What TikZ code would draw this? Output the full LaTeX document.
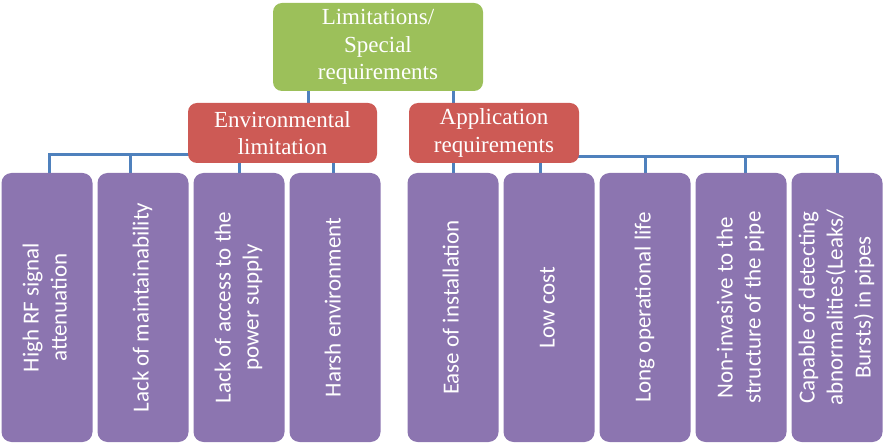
\documentclass[tikz,border=0pt]{standalone}
\usepackage{fontspec}
\setmainfont{Liberation Serif}
\setsansfont{Carlito}
\newfontfamily\headfont{Liberation Serif}
\usepackage{graphicx}
\usetikzlibrary{positioning}
\usetikzlibrary{backgrounds}
\definecolor{boxgreen}{RGB}{156,192,90}
\definecolor{boxred}{RGB}{205,90,85}
\definecolor{boxpurple}{RGB}{140,117,176}
\definecolor{linkblue}{RGB}{79,129,189}
\newcommand{\vtext}[1]{\rotatebox{90}{\begin{tabular}{@{}c@{}}#1\end{tabular}}}

\begin{document}
\begin{tikzpicture}[x=1pt, y=-1pt, every node/.style={inner sep=0pt, outer sep=0pt, text=white},
	  head/.style={rectangle, rounded corners=9pt, fill=boxgreen, minimum width=210pt, minimum height=88pt, align=center, font=\headfont\fontsize{23}{27.5}\selectfont},
	  branch/.style={rectangle, rounded corners=9pt, fill=boxred, minimum height=60pt, align=center, font=\headfont\fontsize{23}{27.5}\selectfont},
	  leaf/.style={rectangle, rounded corners=10pt, fill=boxpurple, minimum width=91pt, minimum height=269pt, font=\sffamily\fontsize{23}{28}\selectfont},
	  link/.style={draw=linkblue, line width=3pt}]
	  \useasboundingbox (0,0) rectangle (884,446);
	  \node[head] (top) at (378,47) {Limitations/\\Special\\requirements};
	  \node[branch, minimum width=189pt] (env) at (282.5,133) {Environmental\\limitation};
	  \node[branch, minimum width=170pt] (apl) at (494,133) {Application\\requirements};
	  \node[leaf] (p1) at (47,307.5) {\vtext{High RF signal\\attenuation}};
	  \node[leaf] (p2) [right=5pt of p1] {\vtext{Lack of maintainability}};
	  \node[leaf] (p3) [right=5pt of p2] {\vtext{Lack of access to the\\power supply}};
	  \node[leaf] (p4) [right=5pt of p3] {\vtext{Harsh environment}};
	  \node[leaf] (p5) [right=27pt of p4] {\vtext{Ease of installation}};
	  \node[leaf] (p6) [right=5pt of p5] {\vtext{Low cost}};
	  \node[leaf] (p7) [right=5pt of p6] {\vtext{Long operational life}};
	  \node[leaf] (p8) [right=5pt of p7] {\vtext{Non-invasive to the\\structure of the pipe}};
	  \node[leaf] (p9) [right=5pt of p8] {\vtext{Capable of detecting\\abnormalities(Leaks/\\Bursts) in pipes}};
%
	  \begin{pgfonlayer}{background}
	    \coordinate (envbus) at ([yshift=8pt]env.south);
	    \coordinate (aplbus) at ([yshift=6pt]apl.south);
	    \draw[link] (top.south -| 308,0) -- (env.north -| 308,0);
	    \draw[link] (top.south -| 453,0) -- (apl.north -| 453,0);
	    \draw[link] (envbus) -| ([xshift=2pt]p1.north);
	    \draw[link] (envbus) -| ([xshift=-13pt]p2.north);
	    \draw[link] (envbus) -| (p3.north);
	    \draw[link] (envbus) -| ([xshift=-2pt]p4.north);
	    \draw[link] (aplbus) -| (p5.north);
	    \draw[link] (aplbus) -| ([xshift=-9pt]p6.north);
	    \draw[link] (aplbus) -| (p7.north);
	    \draw[link] (aplbus) -| ([xshift=4pt]p8.north);
	    \draw[link] (aplbus) -| (p9.north);
	  \end{pgfonlayer}
\end{tikzpicture}
\end{document}
